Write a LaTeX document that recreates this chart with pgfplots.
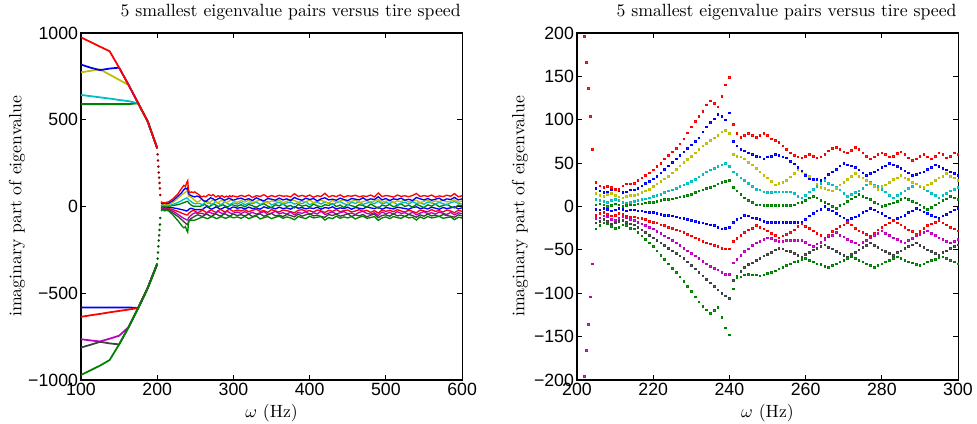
\documentclass[border=0pt]{standalone}
\usepackage{fontspec}
\usepackage{pgfplots}
\usepackage{pgfplotstable}
\pgfplotsset{compat=1.18}
\newfontfamily\arialfont{Liberation Sans}
\definecolor{mblue}{rgb}{0,0,1}
\definecolor{mgreen}{rgb}{0,0.5,0}
\definecolor{mred}{rgb}{1,0,0}
\definecolor{mcyan}{rgb}{0,0.75,0.75}
\definecolor{mmag}{rgb}{0.75,0,0.75}
\definecolor{myel}{rgb}{0.75,0.75,0}
\definecolor{mgrey}{rgb}{0.25,0.25,0.25}

\pgfplotstableread{
x R1 B1 Y1 C1 G1 B2 R2 M2 K2 G2
100 975 818 773 643 590 -582 -636 -765 -813 -971
112.5 948 800 782 636 590 -582 -627 -772 -797 -944
125 921 786 790 629 590 -582 -619 -778 -780 -917
137.5 895 795 760 622 590 -582 -610 -762 -789 -885
150 800 800 730 614 590 -582 -602 -745 -795 -795
162.5 700 700 700 607 590 -582 -594 -695 -695 -695
175 595 595 595 595 595 -585 -585 -585 -585 -585
187.5 490 490 490 490 490 -470 -470 -470 -470 -470
200 335 335 335 335 335 -330 -330 -330 -330 -330
}\tabL

\pgfplotstableread{
x P N
200.5 300 -300
201 265 -265
201.5 230 -230
202 196 -196
202.5 166 -166
203 136 -136
203.5 104 -104
204 66 -66
}\tabD

\pgfplotstableread{
x R1 B1 Y1 C1 G1 B2 R2 M2 K2 G2
205 28 21 15 8 2 -3 -10 -14 -19 -26
206 24 18 13 7 3 -4 -8 -13 -17 -22
207 22 16 12 6 2 -2 -7 -11 -15 -19
208 23 17 14 5 0 -3 -9 -12 -17 -20
209 22 19 15 7 1 -5 -11 -15 -20 -23
210 20 20 13 8 3 -4 -10 -16 -19 -25
211 20 18 11 7 2 -2 -8 -14 -17 -24
212 24 16 10 5 0 -3 -9 -12 -16 -21
213 26 17 12 4 1 -5 -11 -13 -18 -22
214 26 19 13 5 2 -4 -12 -15 -20 -25
215 27 19 13 6 2 -4 -12 -16 -21 -26
216 30 21 14 7 3 -5 -13 -18 -24 -30
217 33 24 16 8 3 -5 -14 -20 -27 -34
218 36 27 18 9 4 -6 -15 -22 -30 -38
219 39 29 20 10 5 -7 -17 -24 -33 -42
220 42 32 23 12 5 -7 -18 -26 -36 -46
221 46 35 26 13 6 -8 -19 -29 -39 -51
222 50 39 29 14 7 -9 -21 -31 -42 -56
223 55 43 32 16 8 -10 -22 -34 -45 -61
224 59 47 35 18 8 -10 -24 -36 -48 -66
225 63 51 39 19 9 -11 -25 -39 -51 -71
226 67 55 43 21 10 -12 -27 -42 -54 -76
227 72 59 47 23 11 -13 -28 -45 -57 -81
228 78 63 51 25 12 -14 -30 -48 -60 -86
229 85 67 54 27 13 -15 -32 -51 -64 -92
230 92 71 58 29 14 -16 -34 -54 -68 -98
231 98 75 62 31 16 -17 -36 -57 -72 -104
232 104 79 66 34 18 -18 -38 -60 -76 -110
233 110 86 70 37 19 -19 -40 -63 -80 -115
234 117 92 73 40 21 -20 -42 -66 -84 -119
235 122 97 76 42 22 -21 -43 -69 -88 -123
236 119 101 79 44 24 -22 -45 -71 -92 -120
237 115 106 82 46 26 -24 -46 -73 -96 -116
238 127 104 86 48 28 -26 -48 -76 -100 -128
239 140 100 88 50 29 -25 -49 -78 -103 -140
240 149 108 84 46 30 -24 -49 -78 -106 -148
241 95 75 60 40 22 -18 -40 -65 -85 -95
242 84 70 58 37 18 -15 -37 -61 -80 -82
243 80 66 57 33 14 -13 -33 -56 -75 -81
244 82 64 55 30 10 -10 -30 -52 -70 -79
245 84 62 51 27 7 -11 -27 -49 -67 -78
246 82 60 48 23 5 -13 -25 -45 -65 -79
247 80 58 44 20 2 -14 -22 -42 -62 -79
248 82 57 40 19 2 -15 -24 -40 -60 -80
249 84 55 36 17 1 -17 -26 -38 -57 -79
250 82 57 33 16 1 -18 -28 -36 -55 -77
251 78 58 29 16 1 -18 -31 -37 -53 -76
252 76 60 25 17 1 -18 -33 -39 -50 -74
253 74 59 27 17 1 -18 -36 -40 -48 -72
254 70 57 28 17 1 -18 -34 -40 -49 -70
255 66 56 30 17 1 -18 -32 -39 -51 -68
256 62 52 34 17 1 -18 -30 -39 -52 -66
257 59 49 38 15 2 -18 -27 -39 -54 -64
258 57 45 42 12 4 -18 -23 -39 -56 -63
259 56 41 40 10 5 -18 -20 -39 -58 -61
260 58 36 37 13 7 -15 -23 -41 -55 -60
261 60 32 35 17 10 -11 -25 -44 -53 -62
262 58 31 31 20 12 -8 -28 -46 -50 -64
263 56 31 26 23 10 -5 -31 -43 -48 -66
264 57 30 22 27 7 -3 -33 -41 -46 -67
265 60 33 21 30 5 0 -36 -38 -44 -69
266 64 37 19 27 3 -3 -33 -35 -47 -70
267 67 40 18 25 0 -5 -29 -33 -49 -68
268 68 43 21 22 -2 -8 -26 -30 -52 -66
269 66 47 25 19 1 -11 -23 -33 -54 -64
270 63 50 28 15 3 -13 -21 -35 -56 -62
271 62 48 31 12 6 -16 -18 -38 -58 -60
272 65 47 35 14 9 -14 -21 -40 -55 -58
273 68 45 38 16 11 -12 -25 -42 -53 -60
274 66 42 35 18 14 -10 -28 -44 -50 -62
275 62 39 33 21 12 -7 -30 -41 -47 -64
276 58 36 30 25 10 -5 -32 -39 -45 -66
277 55 38 27 28 8 -2 -34 -36 -42 -68
278 57 40 23 25 5 -4 -31 -33 -45 -70
279 60 42 20 23 3 -6 -27 -31 -47 -68
280 62 45 23 20 0 -8 -24 -28 -50 -66
281 60 47 25 17 1 -11 -21 -31 -52 -64
282 57 50 28 13 3 -13 -19 -33 -54 -62
283 58 48 31 10 4 -16 -16 -36 -56 -60
284 61 46 33 13 6 -14 -19 -38 -53 -58
285 63 44 36 15 8 -12 -21 -40 -51 -60
286 60 41 33 18 10 -10 -24 -42 -48 -62
287 56 39 31 21 8 -7 -27 -39 -46 -64
288 53 36 28 23 6 -5 -29 -37 -44 -65
289 55 37 26 26 4 -2 -32 -34 -42 -67
290 58 39 24 23 2 -4 -29 -32 -45 -68
291 60 40 22 21 -1 -6 -25 -30 -47 -66
292 57 43 25 18 -3 -8 -22 -28 -50 -64
293 55 45 27 15 -1 -10 -20 -31 -52 -62
294 58 48 30 13 2 -12 -18 -33 -54 -61
295 62 46 33 10 4 -14 -16 -36 -56 -59
296 60 44 35 13 7 -11 -19 -38 -53 -58
297 56 42 38 15 9 -9 -21 -40 -51 -60
298 58 40 35 18 12 -6 -24 -42 -48 -62
299 62 38 33 20 10 -4 -26 -40 -46 -64
300 60 36 30 22 8 -2 -28 -38 -44 -66
}\tabR

\pgfplotstableread{
x R1 B1 Y1 C1 G1 B2 R2 M2 K2 G2
300 60 36 30 22 8 -2 -28 -38 -44 -66
305 55 44 24 14 2 -10 -20 -32 -52 -60
310 64 48 34 24 10 -6 -26 -40 -47 -68
315 57 38 26 10 -2 -14 -18 -30 -55 -57
320 66 45 36 20 12 -4 -30 -42 -44 -70
325 52 34 22 16 4 -12 -22 -34 -58 -62
330 62 50 30 26 -4 -8 -16 -44 -50 -54
335 58 40 38 12 8 -16 -28 -36 -42 -72
340 68 32 26 22 16 -2 -24 -30 -56 -64
345 54 46 20 28 2 -10 -34 -46 -48 -58
350 63 42 32 8 -6 -6 -18 -38 -40 -70
355 56 36 28 18 10 -14 -26 -28 -54 -62
360 65 48 36 24 4 -4 -32 -42 -50 -56
365 59 38 22 12 14 -12 -20 -36 -58 -68
370 61 44 30 20 0 -8 -24 -44 -46 -60
375 55 34 40 26 6 -16 -30 -32 -52 -66
380 74 52 34 14 -8 -2 -36 -48 -60 -76
385 58 42 24 22 12 -10 -22 -34 -44 -58
390 64 36 32 16 2 -6 -18 -40 -56 -64
395 57 48 26 28 8 -14 -28 -30 -48 -70
400 66 40 38 10 -4 -8 -24 -46 -42 -56
405 53 46 22 20 14 -12 -32 -36 -54 -66
410 62 32 30 24 4 -4 -20 -42 -50 -62
415 58 44 36 14 -2 -16 -26 -28 -58 -58
420 76 50 28 26 10 -6 -34 -46 -62 -78
425 55 38 20 18 6 -10 -22 -38 -46 -64
430 63 42 34 12 16 -2 -28 -32 -52 -70
435 57 36 26 22 0 -14 -18 -44 -44 -56
440 67 48 32 28 8 -8 -30 -36 -56 -68
445 54 40 38 16 -6 -12 -24 -30 -50 -60
450 62 34 24 10 12 -4 -20 -42 -42 -66
455 59 46 30 24 4 -16 -32 -38 -58 -58
460 65 42 36 18 -2 -6 -26 -46 -48 -72
465 56 38 22 26 10 -10 -18 -34 -54 -62
470 61 50 28 12 6 -14 -28 -28 -46 -56
475 58 36 34 20 -4 -2 -22 -40 -60 -68
480 66 44 26 24 14 -8 -34 -44 -50 -64
485 55 40 32 16 2 -12 -24 -36 -44 -58
490 78 56 40 30 -10 -4 -38 -52 -64 -80
495 57 38 24 14 8 -16 -20 -32 -52 -66
500 63 46 30 22 2 -6 -28 -42 -48 -60
505 60 34 36 18 12 -10 -22 -34 -56 -70
510 54 44 22 26 -2 -14 -30 -44 -42 -58
515 66 40 32 10 6 -4 -18 -30 -54 -64
520 58 48 28 20 16 -8 -26 -40 -50 -68
525 62 36 38 24 0 -12 -32 -36 -58 -56
530 56 42 26 14 8 -16 -22 -46 -46 -66
535 64 34 34 28 -4 -6 -28 -32 -52 -62
540 75 52 36 18 12 -2 -36 -48 -62 -78
545 57 44 22 22 4 -12 -20 -38 -48 -60
550 63 38 30 12 -6 -8 -26 -30 -56 -70
555 58 46 36 26 10 -14 -30 -42 -44 -58
560 66 36 24 20 2 -4 -18 -36 -54 -66
565 54 42 32 14 14 -10 -28 -44 -50 -62
570 61 48 28 24 -2 -16 -24 -32 -58 -56
575 57 34 38 16 6 -6 -32 -40 -46 -68
580 65 44 26 10 12 -12 -20 -46 -52 -64
585 59 40 30 22 0 -8 -26 -34 -56 -60
590 74 52 38 28 -8 -2 -36 -48 -62 -76
595 56 38 24 18 8 -14 -22 -36 -48 -62
600 62 44 32 14 4 -8 -28 -42 -54 -66
}\tabF

\pgfplotsset{
  matax/.style={
    scale only axis, width=214.9pt, height=195.7pt,
    anchor=south west,
    axis line style={line width=0.6pt},
    tick style={line width=0.5pt, black},
    major tick length=3pt, tick align=inside, tick pos=both,
    ticklabel style={font=\arialfont, inner sep=1.5pt},
    title style={at={(axis description cs:0.55,1)}, anchor=center, yshift=6pt, font=\normalsize},
    xlabel style={at={(axis description cs:0.5,0)}, anchor=center, yshift=-18.6pt},
    title={5 smallest eigenvalue pairs versus tire speed},
    xlabel={$\omega$ (Hz)},
    ylabel={imaginary part of eigenvalue},
  },
  bandline/.style={line width=0.75pt, no markers},
  dots/.style={only marks, mark=square*, mark size=0.45pt, mark options={draw=none, fill opacity=0.8}},
}

\begin{document}
\begin{tikzpicture}
\begin{axis}[matax, at={(0pt,0pt)},
  xmin=100, xmax=600, ymin=-1000, ymax=1000,
  xtick={100,200,300,400,500,600}, xticklabels={100,200,300,400,500,600},
  ytick={-1000,-500,0,500,1000}, yticklabels={−1000,−500,0,500,1000},
  ylabel style={at={(axis description cs:-0.168,0.5)}, anchor=center},
]
% lines 100-200
\addplot[mblue, line width=1pt] table[x=x,y=B2]{\tabL};
\addplot[mred, line width=1pt] table[x=x,y=R2]{\tabL};
\addplot[mmag, line width=1pt] table[x=x,y=M2]{\tabL};
\addplot[mgrey, line width=1pt] table[x=x,y=K2]{\tabL};
\addplot[mgreen, line width=1pt] table[x=x,y=G2]{\tabL};
\addplot[mgreen, line width=1pt] table[x=x,y=G1]{\tabL};
\addplot[mcyan, line width=1pt] table[x=x,y=C1]{\tabL};
\addplot[myel, line width=1pt] table[x=x,y=Y1]{\tabL};
\addplot[mblue, line width=1pt] table[x=x,y=B1]{\tabL};
\addplot[mred, line width=1pt] table[x=x,y=R1]{\tabL};
% drop dots
\addplot[only marks, mark=*, mark size=0.5pt, red!60!black] table[x=x,y=P]{\tabD};
\addplot[only marks, mark=*, mark size=0.5pt, green!35!black] table[x=x,y=N]{\tabD};
% band 205-300
\addplot[mblue, bandline] table[x=x,y=B2]{\tabR};
\addplot[mred, bandline] table[x=x,y=R2]{\tabR};
\addplot[mmag, bandline] table[x=x,y=M2]{\tabR};
\addplot[mgrey, bandline] table[x=x,y=K2]{\tabR};
\addplot[mgreen, bandline] table[x=x,y=G2]{\tabR};
\addplot[mgreen, bandline] table[x=x,y=G1]{\tabR};
\addplot[mcyan, bandline] table[x=x,y=C1]{\tabR};
\addplot[myel, bandline] table[x=x,y=Y1]{\tabR};
\addplot[mblue, bandline] table[x=x,y=B1]{\tabR};
\addplot[mred, bandline] table[x=x,y=R1]{\tabR};
% band 300-600
\addplot[mblue, bandline] table[x=x,y=B2]{\tabF};
\addplot[mred, bandline] table[x=x,y=R2]{\tabF};
\addplot[mmag, bandline] table[x=x,y=M2]{\tabF};
\addplot[mgrey, bandline] table[x=x,y=K2]{\tabF};
\addplot[mgreen, bandline] table[x=x,y=G2]{\tabF};
\addplot[mgreen, bandline] table[x=x,y=G1]{\tabF};
\addplot[mcyan, bandline] table[x=x,y=C1]{\tabF};
\addplot[myel, bandline] table[x=x,y=Y1]{\tabF};
\addplot[mblue, bandline] table[x=x,y=B1]{\tabF};
\addplot[mred, bandline] table[x=x,y=R1]{\tabF};
\end{axis}

\begin{axis}[matax, at={(279.7pt,0pt)},
  xmin=200, xmax=300, ymin=-200, ymax=200,
  xtick={200,220,240,260,280,300}, xticklabels={200,220,240,260,280,300},
  ytick={-200,-150,-100,-50,0,50,100,150,200},
  yticklabels={−200,−150,−100,−50,0,50,100,150,200},
  ylabel style={at={(axis description cs:-0.15,0.5)}, anchor=center},
]
\addplot[dots, mred] table[x=x,y=P]{\tabD};
\addplot[dots, mmag] table[x=x,y=N]{\tabD};
\addplot[dots, mblue] table[x=x,y=B2]{\tabR};
\addplot[dots, mred] table[x=x,y=R2]{\tabR};
\addplot[dots, mmag] table[x=x,y=M2]{\tabR};
\addplot[dots, mgrey] table[x=x,y=K2]{\tabR};
\addplot[dots, mgreen] table[x=x,y=G2]{\tabR};
\addplot[dots, mgreen] table[x=x,y=G1]{\tabR};
\addplot[dots, mcyan] table[x=x,y=C1]{\tabR};
\addplot[dots, myel] table[x=x,y=Y1]{\tabR};
\addplot[dots, mblue] table[x=x,y=B1]{\tabR};
\addplot[dots, mred] table[x=x,y=R1]{\tabR};
\end{axis}
\pgfresetboundingbox
\path[use as bounding box] (-45.7pt,-24.8pt) rectangle (505.3pt,214.3pt);
\end{tikzpicture}
\end{document}
